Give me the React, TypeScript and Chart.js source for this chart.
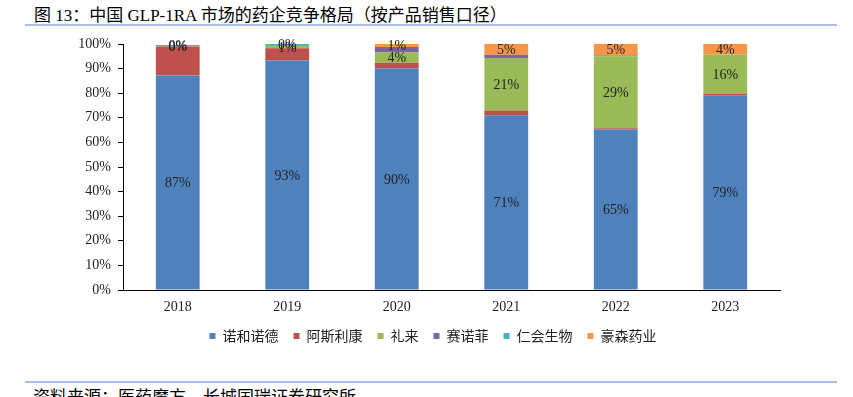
import React, { useEffect, useRef } from "react";
import { Chart, registerables } from "chart.js";
Chart.register(...registerables);

const categories = ["2018", "2019", "2020", "2021", "2022", "2023"];
const novo = [87.2, 93.3, 90.0, 71.0, 65.2, 79.2];
const astra = [11.8, 5.0, 2.4, 2.0, 0.6, 0.5];
const lilly = [0.2, 1.0, 4.1, 21.3, 29.2, 16.0];
const sanofi = [0, 0.3, 2.3, 1.3, 0.3, 0];
const renhui = [0.4, 0.4, 0, 0, 0, 0];
const hansoh = [0, 0, 1.2, 4.6, 4.9, 4.3];
const yTicks = ["0%", "10%", "20%", "30%", "40%", "50%", "60%", "70%", "80%", "90%", "100%"];

const seriesNames = ["诺和诺德", "阿斯利康", "礼来", "赛诺菲", "仁会生物", "豪森药业"];
const seriesData = [novo, astra, lilly, sanofi, renhui, hansoh];
const seriesColors = ["#4F81BD", "#C0504D", "#9BBB59", "#8064A2", "#4BACC6", "#F79646"];
const labeled = [true, false, true, false, true, true];

const SERIF = "'Liberation Serif', 'Times New Roman', serif";
const CJK = "'Liberation Serif', 'Noto Sans CJK SC', sans-serif";
const SANS = "'Noto Sans CJK SC', sans-serif";

const labelPlugin = {
  id: "segLabels",
  afterLayout(chart: any) {
    if (chart.legend) chart.legend.left = 86;
  },
  afterDatasetsDraw(chart: any) {
    const ctx = chart.ctx;
    ctx.save();
    ctx.font = `14px ${SERIF}`;
    ctx.fillStyle = "#222";
    ctx.textAlign = "center";
    ctx.textBaseline = "middle";
    chart.data.datasets.forEach((ds: any, i: number) => {
      if (!labeled[i]) return;
      const meta = chart.getDatasetMeta(i);
      meta.data.forEach((el: any, j: number) => {
        const v = ds.data[j];
        if (!(v > 0)) return;
        const y = (el.y + el.base) / 2;
        ctx.fillText(Math.round(v) + "%", el.x, y + 1);
      });
    });
    ctx.restore();
  },
};

export default function App() {
  const ref = useRef<HTMLCanvasElement>(null);
  useEffect(() => {
    const chart = new Chart(ref.current!, {
      type: "bar",
      data: {
        labels: categories,
        datasets: seriesNames.map((n, i) => ({
          label: n,
          data: seriesData[i],
          backgroundColor: seriesColors[i],
          borderWidth: 0,
          barPercentage: 0.8,
          categoryPercentage: 0.5,
        })),
      },
      plugins: [labelPlugin],
      options: {
        animation: false,
        responsive: false,
        maintainAspectRatio: false,
        layout: { padding: { left: 0, right: 73, top: 44, bottom: 27 } },
        plugins: {
          tooltip: { enabled: false },
          legend: {
            position: "bottom",
            labels: {
              boxWidth: 6,
              boxHeight: 6,
              padding: 15,
              color: "#222",
              font: { size: 14, family: SANS },
            },
          },
        },
        scales: {
          x: {
            stacked: true,
            grid: { display: false, drawTicks: false },
            border: { display: true, color: "#000", width: 1 },
            ticks: { color: "#222", font: { size: 14, family: SERIF }, padding: 9 },
            afterFit: (s: any) => { s.height = 24; },
          },
          y: {
            stacked: true,
            min: 0,
            max: 100,
            grid: { display: true, drawOnChartArea: false, drawTicks: true, tickLength: 5, color: "#000" },
            border: { display: true, color: "#000", width: 1 },
            ticks: {
              stepSize: 10,
              color: "#222",
              padding: 7,
              font: { size: 14, family: SERIF },
              callback: (v: any) => yTicks[Math.round(v / 10)],
            },
            afterFit: (s: any) => { s.width = 123; },
          },
        },
      },
    });
    return () => chart.destroy();
  }, []);
  return (
    <div style={{ position: "absolute", left: 0, top: 0, width: 853, height: 397, background: "#fff", overflow: "hidden" }}>
      <div style={{ position: "absolute", left: 34, top: 1, fontSize: 17, fontFamily: CJK, color: "#000", whiteSpace: "nowrap" }}>
        图 13：中国 GLP-1RA 市场的药企竞争格局（按产品销售口径）
      </div>
      <div style={{ position: "absolute", left: 25, top: 24, width: 812, height: 2, background: "#A9C1E8" }} />
      <canvas ref={ref} width={853} height={380} style={{ position: "absolute", left: 0, top: 0 }} />
      <div style={{ position: "absolute", left: 25, top: 381, width: 812, height: 2, background: "#A9C1E8" }} />
      <div style={{ position: "absolute", left: 33, top: 383, fontSize: 17, fontFamily: CJK, color: "#000", whiteSpace: "nowrap" }}>
        资料来源：医药魔方，长城国瑞证券研究所
      </div>
    </div>
  );
}
